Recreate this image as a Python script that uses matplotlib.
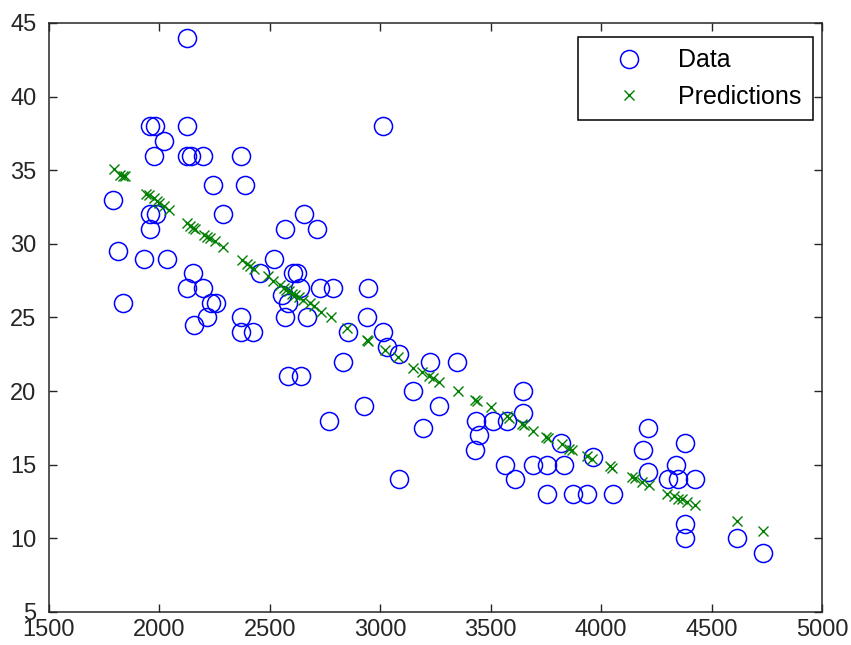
import numpy as np
import matplotlib
matplotlib.use("Agg")
import matplotlib.pyplot as plt

plt.rcParams['font.family'] = ['Liberation Sans', 'DejaVu Sans']

# observed data (weight, mpg)
weight = [2125, 1957, 1980, 2125, 3013, 2021, 1976, 2125, 2143, 2198,
          2370, 2243, 2388, 1790, 1957, 1985, 2288, 2655, 1957, 2569,
          2714, 1812, 1930, 2034, 2519, 2152, 2456, 2605, 2623, 2125,
          2198, 2637, 2728, 2787, 2945, 1835, 2234, 2256, 2555, 2580,
          2216, 2157, 2370, 2570, 2669, 2941, 2370, 2424, 2855, 3013,
          3031, 3086, 2832, 3226, 3348, 2583, 2642, 3149, 3647, 2927,
          3267, 3647, 2768, 3434, 3511, 3575, 3194, 3448, 3430, 3819,
          3565, 3692, 3756, 3833, 3964, 3611, 3086, 3756, 3874, 3937,
          4055, 4213, 4381, 4191, 4213, 4340, 4304, 4349, 4426, 4381,
          4381, 4617, 4734]
mpg = [44, 38, 38, 38, 38, 37, 36, 36, 36, 36,
       36, 34, 34, 33, 32, 32, 32, 32, 31, 31,
       31, 29.5, 29, 29, 29, 28, 28, 28, 28, 27,
       27, 27, 27, 27, 27, 26, 26, 26, 26.5, 26,
       25, 24.5, 25, 25, 25, 25, 24, 24, 24, 24,
       23, 22.5, 22, 22, 22, 21, 21, 20, 20, 19,
       19, 18.5, 18, 18, 18, 18, 17.5, 17, 16, 16.5,
       15, 15, 15, 15, 15.5, 14, 14, 13, 13, 13,
       13, 17.5, 16.5, 16, 14.5, 15, 14, 14, 14, 11,
       10, 10, 9]

# model predictions
pred_weight = [1795, 1820, 1835, 1845, 1940, 1955, 1975, 1990, 2000, 2020,
               2045, 2125, 2140, 2150, 2160, 2200, 2215, 2230, 2250, 2290,
               2375, 2395, 2410, 2430, 2490, 2515, 2545, 2565, 2575, 2585,
               2600, 2615, 2630, 2650, 2680, 2700, 2730, 2775, 2850, 2940,
               2945, 3020, 3080, 3150, 3190, 3220, 3240, 3265, 3350, 3430,
               3440, 3500, 3575, 3585, 3640, 3650, 3690, 3750, 3760, 3825,
               3855, 3870, 3935, 3960, 4040, 4050, 4140, 4155, 4185, 4215,
               4300, 4330, 4350, 4365, 4390, 4425, 4615, 4732]
pred_mpg = [35.1, 34.7, 34.6, 34.6, 33.4, 33.3, 33.1, 32.9, 32.8, 32.6,
            32.3, 31.4, 31.2, 31.1, 31.0, 30.6, 30.5, 30.4, 30.2, 29.8,
            28.9, 28.6, 28.5, 28.3, 27.8, 27.5, 27.2, 27.0, 26.9, 26.8,
            26.6, 26.5, 26.4, 26.2, 26.0, 25.8, 25.4, 25.0, 24.3, 23.5,
            23.4, 22.8, 22.3, 21.6, 21.3, 21.0, 20.9, 20.6, 20.0, 19.4,
            19.3, 18.9, 18.3, 18.2, 17.8, 17.7, 17.3, 16.9, 16.8, 16.4,
            16.1, 16.0, 15.6, 15.4, 14.9, 14.8, 14.2, 14.1, 13.85, 13.6,
            13.0, 12.9, 12.7, 12.7, 12.5, 12.3, 11.2, 10.5]

fig = plt.figure(figsize=(8.51, 6.45), dpi=100)
ax = fig.add_axes([49/851, 1 - 612/645, (822 - 49)/851, (612 - 23)/645])

ax.plot(weight, mpg, 'o', mfc='none', mec=(0, 0, 1), ms=13, mew=1.1, label='Data')
ax.plot(pred_weight, pred_mpg, 'x', color=(0, 0.5, 0), ms=6.5, mew=1.0, label='Predictions')

ax.set_xlim(1500, 5000)
ax.set_ylim(5, 45)
ax.set_xticks(np.arange(1500, 5001, 500))
ax.set_yticks(np.arange(5, 46, 5))
ax.tick_params(direction='in', length=6, width=1, top=True, right=True,
               labelsize=17, colors='#262626')
ax.tick_params(axis='x', pad=5)
ax.tick_params(axis='y', pad=9)
for s in ax.spines.values():
    s.set_linewidth(1.1)
    s.set_color('#262626')

leg = ax.legend(loc='upper right', bbox_to_anchor=(813/851, 1 - 37/645),
                bbox_transform=fig.transFigure, borderaxespad=0,
                fontsize=18, fancybox=False, framealpha=1, edgecolor='black',
                numpoints=1, handlelength=3.2, handletextpad=0.36,
                borderpad=0.45, labelspacing=0.5)
leg.get_frame().set_linewidth(1.1)

fig.savefig('out.png', dpi=100)
